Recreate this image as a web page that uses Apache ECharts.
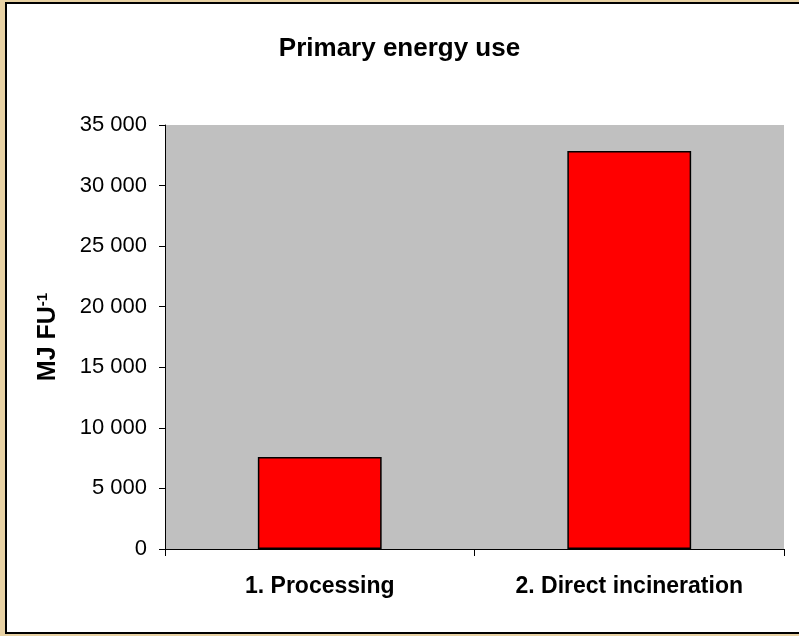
<!DOCTYPE html>
<html>
<head>
<meta charset="utf-8">
<script src="https://cdn.jsdelivr.net/npm/echarts@6/dist/echarts.min.js"></script>
<style>
html,body{margin:0;padding:0;width:799px;height:636px;overflow:hidden;background:#E8D2A4;}
#frame{position:absolute;left:5px;top:2px;width:860px;height:628px;border:2px solid #000;background:#fff;}
#chart{position:absolute;left:0;top:0;width:799px;height:636px;}
</style>
</head>
<body>
<div id="frame"></div>
<div id="chart"></div>
<script>
const titleText = 'Primary energy use';
const categories = ['1. Processing', '2. Direct incineration'];
const values = [7600, 32850];
const yMin = 0, yMax = 35000, yStep = 5000;

function fmt(v){ return String(v).replace(/\B(?=(\d{3})+(?!\d))/g, ' '); }

const chart = echarts.init(document.getElementById('chart'), null, {renderer:'canvas'});
chart.setOption({
  backgroundColor: 'transparent',
  animation: false,
  title: {
    text: titleText, left: 'center', top: 31,
    textStyle: {fontFamily: 'Liberation Sans', fontSize: 26, fontWeight: 'bold', color: '#000'}
  },
  grid: {left: 165, top: 125, right: 15, bottom: 87, show: true, backgroundColor: '#C0C0C0', borderWidth: 0},
  xAxis: {
    type: 'category', data: categories,
    axisLine: {lineStyle: {color: '#000', width: 1}},
    axisTick: {show: true, length: 7, lineStyle: {color: '#000'}},
    axisLabel: {margin: 26, fontFamily: 'Liberation Sans', fontSize: 23, fontWeight: 'bold', color: '#000'},
    splitLine: {show: false}
  },
  yAxis: {
    type: 'value', min: yMin, max: yMax, interval: yStep,
    name: '{m|MJ FU}{s|-1}', nameLocation: 'middle', nameGap: 103, nameRotate: 90,
    nameTextStyle: {
      rich: {
        m: {fontFamily: 'Liberation Sans', fontSize: 25, fontWeight: 'bold', color: '#000'},
        s: {fontFamily: 'Liberation Sans', fontSize: 15, fontWeight: 'bold', color: '#000', padding: [0,0,12,0]}
      }
    },
    axisLine: {show: true, lineStyle: {color: '#000', width: 1}},
    axisTick: {show: true, length: 6, lineStyle: {color: '#000'}},
    axisLabel: {margin: 18, fontFamily: 'Liberation Sans', fontSize: 22, color: '#000', formatter: fmt},
    splitLine: {show: false}
  },
  series: [{
    type: 'bar', data: values, barWidth: '40%',
    itemStyle: {color: '#FF0000', borderColor: '#000', borderWidth: 1.5}
  }]
});
</script>
</body>
</html>
